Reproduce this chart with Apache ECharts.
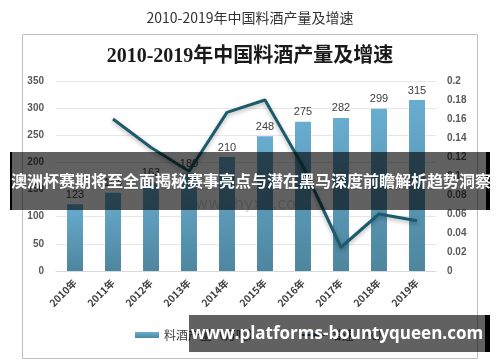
<!DOCTYPE html>
<html><head><meta charset="utf-8">
<script src="https://cdn.jsdelivr.net/npm/echarts@6/dist/echarts.min.js"></script>
<style>html,body{margin:0;padding:0;background:#fff}#c{width:500px;height:362px}</style>
</head><body><div id="c"></div>
<script>
var categories = ['2010年','2011年','2012年','2013年','2014年','2015年','2016年','2017年','2018年','2019年'];
var production = [123, 144, 163, 180, 210, 248, 275, 282, 299, 315];
var growth = [null, 0.16, 0.13, 0.105, 0.167, 0.18, 0.11, 0.025, 0.06, 0.053];
var leftTicks = {min: 0, max: 350, interval: 50};
var rightTicks = {min: 0, max: 0.2, interval: 0.02};
var banner1 = '澳洲杯赛期将至全面揭秘赛事亮点与潜在黑马深度前瞻解析趋势洞察';
var banner2 = 'www.platforms-bountyqueen.com';

var chart = echarts.init(document.getElementById('c'), null, {renderer: 'canvas'});
var cjk = '"Noto Sans CJK SC", "Noto Sans", sans-serif';
chart.setOption({
  animation: false,
  backgroundColor: '#fff',
  title: [
    {text: '2010-2019年中国料酒产量及增速', left: 'center', top: 6,
     textStyle: {fontSize: 14, fontWeight: 'normal', color: '#333', fontFamily: cjk}},
    {text: '2010-2019年中国料酒产量及增速', left: 'center', top: 42,
     textStyle: {fontSize: 20, fontWeight: 'bold', color: '#1a1a1a', fontFamily: '"Liberation Serif", "Noto Sans CJK SC", serif'}}
  ],
  grid: {left: 56, right: 64, top: 81, bottom: 91},
  legend: {
    bottom: 16, left: 130, itemWidth: 24, itemHeight: 6, itemGap: 40,
    textStyle: {fontSize: 12, color: '#404040', fontFamily: cjk},
    data: [{name: '料酒产量（万吨）', icon: 'rect'}, {name: '增速（%）'}]
  },
  xAxis: {
    type: 'category', data: categories,
    axisLine: {lineStyle: {color: '#d9d9d9'}},
    axisTick: {show: false},
    axisLabel: {rotate: 45, fontSize: 10, color: '#404040', margin: 10, fontFamily: cjk, fontWeight: 'bold'}
  },
  yAxis: [
    {type: 'value', min: leftTicks.min, max: leftTicks.max, interval: leftTicks.interval,
     axisLine: {show: false}, axisTick: {show: false},
     axisLabel: {fontSize: 10, color: '#595959', margin: 12, fontWeight: 'bold'},
     splitLine: {lineStyle: {color: '#e6e6e6'}}},
    {type: 'value', min: rightTicks.min, max: rightTicks.max, interval: rightTicks.interval,
     axisLine: {show: false}, axisTick: {show: false}, splitLine: {show: false},
     axisLabel: {fontSize: 10, color: '#595959', margin: 11, fontWeight: 'bold',
       formatter: function (v) { return String(parseFloat(v.toFixed(2))); }}}
  ],
  series: [
    {name: '料酒产量（万吨）', type: 'bar', data: production, barWidth: '42%',
     itemStyle: {color: new echarts.graphic.LinearGradient(0, 0, 0, 1, [
       {offset: 0, color: '#68add0'}, {offset: 1, color: '#4d869e'}])},
     label: {show: true, position: 'top', distance: 4, fontSize: 11, color: '#404040'}},
    {name: '增速（%）', type: 'line', yAxisIndex: 1, data: growth, symbol: 'none',
     lineStyle: {color: '#1c5a6e', width: 3, shadowColor: 'rgba(0,0,0,0.3)', shadowBlur: 4, shadowOffsetY: 2},
     itemStyle: {color: '#1c5a6e'}}
  ],
  graphic: [
    {type: 'rect', left: 20, top: 32, shape: {width: 455, height: 324}, z: -1,
     style: {fill: 'none', stroke: '#bfbfbf', lineWidth: 1}},
    {type: 'text', left: 182, top: 197, z: 1,
     style: {text: 'www.chyxx.com', font: '16px "DejaVu Sans", sans-serif', fill: 'rgba(150,150,150,0.35)'}},
    {type: 'rect', left: 10, top: 152, shape: {width: 480, height: 58}, z: 100,
     style: {fill: 'rgba(0,0,0,0.62)'}},
    {type: 'rect', left: 10, top: 152, shape: {width: 2, height: 58}, z: 101, style: {fill: '#000'}},
    {type: 'rect', left: 486, top: 152, shape: {width: 4, height: 58}, z: 101, style: {fill: '#000'}},
    {type: 'text', x: 251, y: 181, z: 102,
     style: {text: banner1, font: 'bold 16px "Noto Sans CJK SC", sans-serif', fill: '#fff',
       textAlign: 'center', textVerticalAlign: 'middle'}},
    {type: 'rect', left: 189, top: 315, shape: {width: 301, height: 37}, z: 100,
     style: {fill: 'rgba(0,0,0,0.62)'}},
    {type: 'rect', left: 485, top: 315, shape: {width: 5, height: 37}, z: 101, style: {fill: '#000'}},
    {type: 'text', x: 337, y: 334, z: 102,
     style: {text: banner2, font: 'bold 17px "Open Sans", "DejaVu Sans", sans-serif', fill: '#fff',
       textAlign: 'center', textVerticalAlign: 'middle'}}
  ]
});
</script></body></html>
